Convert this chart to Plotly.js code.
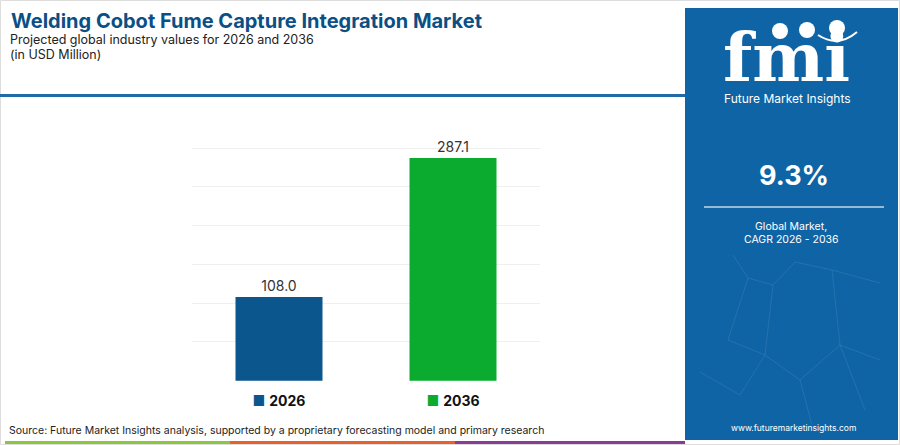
<!DOCTYPE html>
<html>
<head>
<meta charset="utf-8">
<script src="https://cdn.plot.ly/plotly-3.0.1.min.js"></script>
<style>
  html, body { margin: 0; padding: 0; background: #fff; }
  #chart { width: 900px; height: 445px; }
</style>
</head>
<body>
<div id="chart"></div>
<script>
// chart values
var years = ['2026', '2036'];
var marketValues = [108.0, 287.1];
var barColors = ['#0b568c', '#0aab2e'];
var yTicks = [0, 50, 100, 150, 200, 250, 300];

// pixel -> paper helpers (margins are zero, so paper = whole figure)
function X(px) { return px / 900; }
function Y(py) { return 1 - py / 445; }

var tickText = years.map(function (y, i) {
    return '<span style="color:' + barColors[i] + '">■</span> <b>' + y + '</b>';
});

var trace = {
    type: 'bar',
    x: years,
    y: marketValues,
    marker: { color: barColors },
    text: marketValues.map(function (v) { return v.toFixed(1); }),
    textposition: 'outside',
    cliponaxis: false,
    textfont: { family: 'Inter, sans-serif', size: 14, color: '#333' },
    hoverinfo: 'skip',
    showlegend: false
};

var font = 'Inter, Roboto, sans-serif';

var annotations = [
    { text: '<b>Welding Cobot Fume Capture Integration Market</b>', x: X(9), y: Y(21),
      font: { family: font, size: 20, color: '#0b4f85' } },
    { text: 'Projected global industry values for 2026 and 2036', x: X(8), y: Y(39),
      font: { family: font, size: 12.5, color: '#222' } },
    { text: '(in USD Million)', x: X(8), y: Y(55),
      font: { family: font, size: 12.5, color: '#222' } },
    { text: 'Source: Future Market Insights analysis, supported by a proprietary forecasting model and primary research',
      x: X(7), y: Y(430), font: { family: font, size: 10.5, color: '#222' } },
    // right panel
    { text: '<b>fmi</b>', x: X(786), y: Y(57), xanchor: 'center', height: 60,
      font: { family: 'DejaVu Serif', size: 68, color: '#ffffff' } },
    { text: 'Future Market Insights', x: X(787), y: Y(98), xanchor: 'center',
      font: { family: font, size: 12, color: '#ffffff' } },
    { text: '<b>9.3%</b>', x: X(794), y: Y(176), xanchor: 'center',
      font: { family: font, size: 27, color: '#ffffff' } },
    { text: 'Global Market,', x: X(791), y: Y(226), xanchor: 'center',
      font: { family: font, size: 10.5, color: '#ffffff' } },
    { text: 'CAGR 2026 - 2036', x: X(791), y: Y(239), xanchor: 'center',
      font: { family: font, size: 10.5, color: '#ffffff' } },
    { text: 'www.futuremarketinsights.com', x: X(793), y: Y(428), xanchor: 'center',
      font: { family: font, size: 8.5, color: '#ffffff' } }
].map(function (a) {
    return Object.assign({ xref: 'paper', yref: 'paper', xanchor: 'left', yanchor: 'middle',
        showarrow: false }, a);
});

function rect(x0, y0, x1, y1, fill, extra) {
    return Object.assign({ type: 'rect', xref: 'paper', yref: 'paper',
        x0: X(x0), x1: X(x1), y0: Y(y0), y1: Y(y1),
        fillcolor: fill, line: { width: 0 }, layer: 'below' }, extra || {});
}
function line(x0, y0, x1, y1, color, w) {
    return { type: 'line', xref: 'paper', yref: 'paper', x0: X(x0), x1: X(x1), y0: Y(y0), y1: Y(y1),
        line: { color: color, width: w }, layer: 'below' };
}
function circle(cx, cy, r) {
    return { type: 'circle', xref: 'paper', yref: 'paper', x0: X(cx - r), x1: X(cx + r),
        y0: Y(cy + r), y1: Y(cy - r), fillcolor: '#ffffff', line: { width: 0 } };
}

var shapes = [
    rect(0.5, 0.5, 899.5, 444.5, 'rgba(0,0,0,0)', { line: { color: '#dddddd', width: 1 } }),
    line(0, 95.5, 685, 95.5, '#1f6aa8', 3),
    rect(685, 8, 898, 440, '#0f64a5'),
    line(704, 207, 884, 207, 'rgba(255,255,255,0.75)', 1.5),
    rect(5, 441, 230, 444, '#8cc63f'),
    rect(230, 441, 455, 444, '#e6612c'),
    rect(455, 441, 685, 444, '#8b3a98'),
    circle(780, 31, 8),
    circle(807, 30, 8),
    circle(837, 28, 8),
    { type: 'path', xref: 'paper', yref: 'paper',
      path: 'M' + X(818) + ',' + Y(35) + ' Q' + X(838) + ',' + Y(48) + ' ' + X(857) + ',' + Y(32),
      line: { color: '#ffffff', width: 2 } }
];

// faint network pattern in the panel
var net = [[733, 255, 748, 278], [748, 278, 773, 285], [773, 285, 795, 262], [795, 262, 832, 270],
           [832, 270, 880, 283], [748, 278, 728, 340], [773, 285, 765, 355], [765, 355, 800, 380],
           [800, 380, 840, 345], [840, 345, 880, 360], [832, 270, 840, 345], [728, 340, 765, 355],
           [800, 380, 812, 425], [765, 355, 740, 395], [740, 395, 700, 372], [840, 345, 865, 410]];
net.forEach(function (s) { shapes.push(line(s[0], s[1], s[2], s[3], 'rgba(255,255,255,0.09)', 1)); });

var layout = {
    width: 900,
    height: 445,
    margin: { l: 0, r: 0, t: 0, b: 0 },
    paper_bgcolor: '#ffffff',
    plot_bgcolor: '#ffffff',
    bargap: 0.5,
    xaxis: {
        domain: [X(192), X(540)],
        tickvals: years,
        ticktext: tickText,
        ticks: '',
        ticklabelstandoff: 9,
        tickfont: { family: font, size: 14, color: '#111' },
        showgrid: false,
        zeroline: false,
        fixedrange: true
    },
    yaxis: {
        domain: [Y(381.5), Y(146.5)],
        range: [-1, 302],
        tickvals: yTicks,
        showticklabels: false,
        gridcolor: '#efefef',
        gridwidth: 1,
        zeroline: false,
        fixedrange: true
    },
    annotations: annotations,
    shapes: shapes,
    showlegend: false
};

Plotly.newPlot('chart', [trace], layout, { displayModeBar: false, staticPlot: true });
</script>
</body>
</html>
